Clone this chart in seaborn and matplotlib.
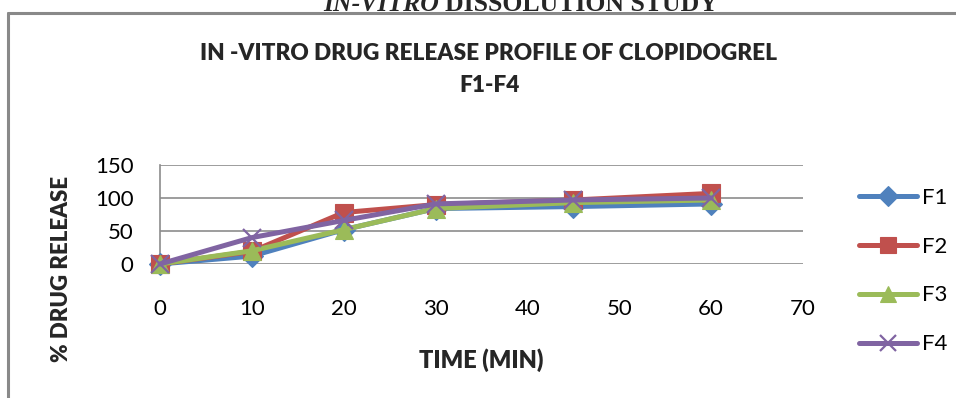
import matplotlib
matplotlib.use("Agg")
import matplotlib.pyplot as plt
from matplotlib.lines import Line2D
import seaborn as sns
import pandas as pd

# Dissolution data: time points (min) and % drug released per formulation
time_min = [0, 10, 20, 30, 45, 60]
f1 = [0, 12, 52, 84, 87, 91]
f2 = [0, 19, 78, 90, 97, 107]
f3 = [0, 20, 52, 84, 93, 97]
f4 = [0, 40, 66, 91, 97, 100]

series_names = ["F1", "F2", "F3", "F4"]
series_values = [f1, f2, f3, f4]
x_ticks = [0, 10, 20, 30, 40, 50, 60, 70]
y_ticks = [0, 50, 100, 150]

colors = ["#4F81BD", "#C0504D", "#9BBB59", "#8064A2"]
markers = ["D", "s", "^", "x"]
msizes = [11, 13, 13, 13]

sns.set_theme(style="white")
plt.rcParams["font.family"] = ["Lato", "DejaVu Sans"]

W, H = 956, 398
fig = plt.figure(figsize=(W / 100, H / 100), dpi=100)

def fx(px):
    return px / W

def fy(py):
    return 1 - py / H

# plot area
left, right, top, bottom = 160, 803, 165, 264
ax = fig.add_axes([fx(left), fy(bottom), fx(right - left), (bottom - top) / H])

for name, vals, c, m, ms in zip(series_names, series_values, colors, markers, msizes):
    df = pd.DataFrame({"time": time_min, "release": vals})
    sns.lineplot(data=df, x="time", y="release", ax=ax, color=c, marker=m,
                 markersize=ms, linewidth=3.6, label=name, clip_on=False,
                 markeredgecolor=c, markerfacecolor=c,
                 markeredgewidth=1.6 if m == "x" else 0.8, zorder=3)

ax.set_xlim(0, 70)
ax.set_ylim(0, 150)
ax.set_xticks(x_ticks)
ax.set_yticks(y_ticks)
ax.tick_params(axis="both", length=0, labelsize=16, labelcolor="#000000")
ax.tick_params(axis="y", pad=19)
ax.tick_params(axis="x", pad=25)

ax.grid(axis="y", color="#8C8C8C", linewidth=1.2)
ax.grid(axis="x", visible=False)
for s in ["top", "right", "bottom"]:
    ax.spines[s].set_visible(False)
ax.spines["left"].set_color("#8C8C8C")
ax.spines["left"].set_linewidth(1.2)

ax.set_xlabel("TIME (MIN)", fontsize=17, fontweight="heavy")
ax.set_ylabel("% DRUG RELEASE", fontsize=16, fontweight="heavy")
ax.xaxis.label.set_va("center")
ax.yaxis.label.set_va("center")
ax.xaxis.set_label_coords((481 - left) / (right - left), -(360 - bottom) / (bottom - top))
ax.yaxis.set_label_coords((62 - left) / (right - left), -(269 - bottom) / (bottom - top))

leg = ax.legend(loc="center left", bbox_to_anchor=(fx(850), fy(271)),
                bbox_transform=fig.transFigure, frameon=False, fontsize=16,
                handlelength=2.6, handletextpad=0.25, labelspacing=1.3,
                borderaxespad=0)
for t in leg.get_texts():
    t.set_color("#000000")
for h, ms in zip(leg.legend_handles, [10, 11, 11, 11]):
    h.set_markersize(ms)

# chart titles
fig.text(fx(489), fy(53), "IN -VITRO DRUG RELEASE PROFILE OF CLOPIDOGREL",
         ha="center", va="center", fontsize=16.3, fontweight="heavy")
fig.text(fx(490), fy(86), "F1-F4", ha="center", va="center",
         fontsize=16.3, fontweight="heavy")

# section heading above the chart frame
serif = ["Liberation Serif", "DejaVu Serif"]
h1 = fig.text(fx(323), fy(11), "IN-VITRO", ha="left", va="baseline",
              fontsize=18.5, fontweight="bold", fontstyle="italic", family=serif)
fig.canvas.draw()
bb = h1.get_window_extent(fig.canvas.get_renderer())
fig.text(fx(bb.x1 + 6), fy(11), "DISSOLUTION STUDY", ha="left", va="baseline",
         fontsize=18.5, fontweight="bold", family=serif)

# chart frame
frame_kw = dict(color="#898989", linewidth=2.2, transform=fig.transFigure)
fig.add_artist(Line2D([fx(8), fx(8)], [fy(13), 0], **frame_kw))
fig.add_artist(Line2D([fx(8), 1], [fy(13), fy(13)], **frame_kw))

fig.savefig("out.png", dpi=100)
